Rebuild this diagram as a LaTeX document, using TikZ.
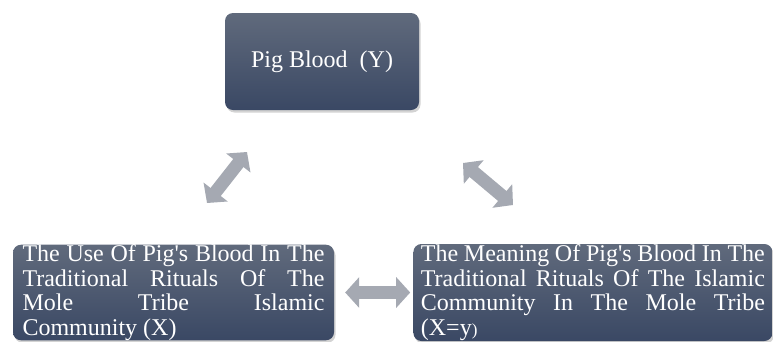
\documentclass[tikz,border=0pt]{standalone}
\usepackage{fontspec}
\setmainfont{Liberation Serif}[Ligatures=TeXOff]
\usetikzlibrary{positioning,shadows,arrows.meta}

\definecolor{boxtop}{RGB}{96,106,124}
\definecolor{boxbot}{RGB}{58,72,100}
\definecolor{arrowgray}{RGB}{165,169,178}

\tikzset{
  box/.style={rectangle, rounded corners=8pt, top color=boxtop,
    bottom color=boxbot, text=white, font=\fontsize{24}{24.5}\selectfont,
    drop shadow={shadow xshift=1.5pt, shadow yshift=-2.5pt, opacity=0.35}},
  link/.style={draw=arrowgray, line width=13pt,
    {Triangle[width=30pt,length=14pt]}-{Triangle[width=30pt,length=14pt]}}
}

\begin{document}
\begin{tikzpicture}[x=1pt, y=-1pt]
  \useasboundingbox (0,0) rectangle (773,341);

  % Define nodes
  \node[box, minimum width=194pt, minimum height=97pt] (blood) at (322,61.5) {Pig Blood\ \ (Y)};
  \node[box, text width=302pt, align=justify, inner xsep=9.5pt, inner ysep=0pt,
    minimum width=321pt, minimum height=95pt] (use) at (173.5,292.5)
    {The Use Of Pig's Blood In The\linebreak Traditional Rituals Of The\linebreak
     Mole Tribe Islamic\linebreak Community (X)};
  \node[box, text width=344pt, align=justify, inner xsep=7.5pt, inner ysep=0pt,
    minimum width=359pt, minimum height=97pt, right=79pt of use] (meaning)
    {The Meaning Of Pig's Blood In The\linebreak Traditional Rituals Of The Islamic\linebreak
     Community In The Mole Tribe\linebreak (X=y{\fontsize{17}{24}\selectfont )}};

  \coordinate (use-up)   at (207,203);
  \coordinate (blood-sw) at (247,152);
  \coordinate (blood-se) at (463,163);
  \coordinate (mean-up)  at (513,205);

  % Connect the nodes
  \draw[link] (use-up) -- (blood-sw);
  \draw[link] (blood-se) -- (mean-up);
  \draw[link, shorten <=11pt, shorten >=3pt] (use.east) -- (meaning.west);
\end{tikzpicture}
\end{document}
